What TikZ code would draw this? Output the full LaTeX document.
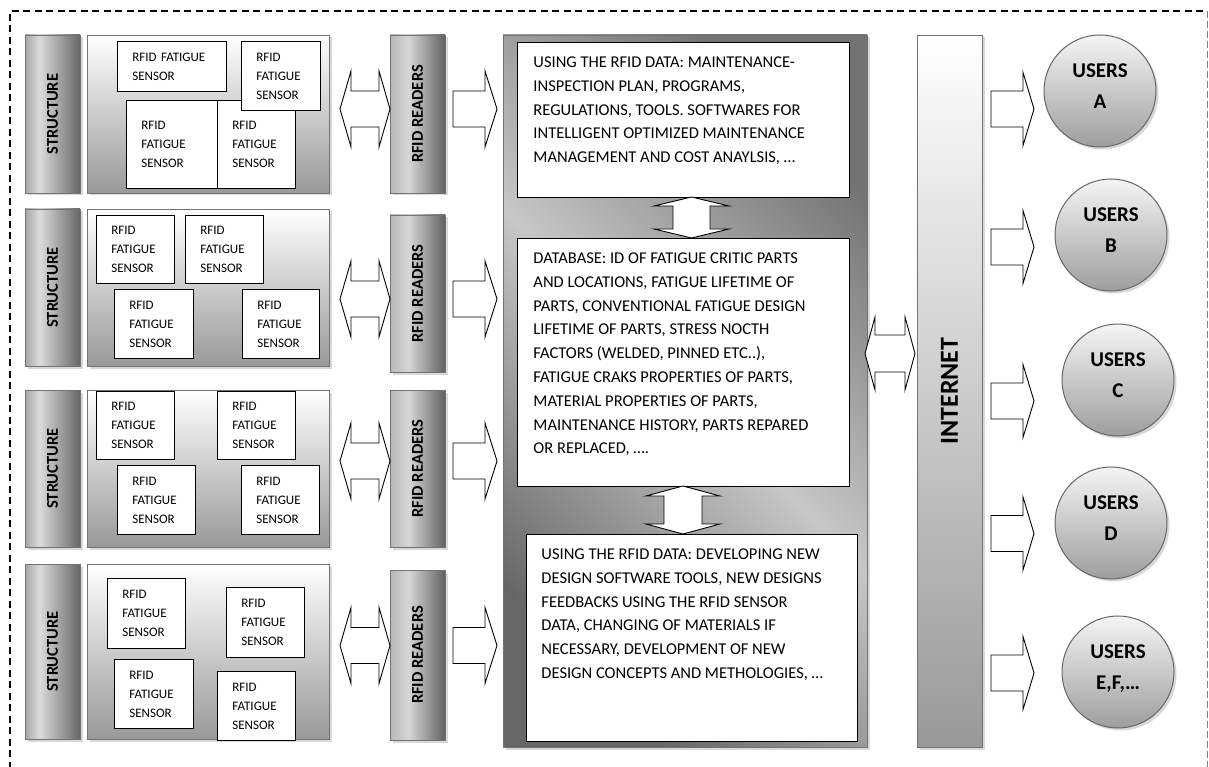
\documentclass[tikz,border=0pt]{standalone}
\usepackage{fontspec}
\setmainfont{Carlito}
\usepackage{graphicx}
\usetikzlibrary{shadows,calc}
\pgfdeclarehorizontalshading{structshade}{100bp}{color(0bp)=(black!35); color(25bp)=(black!35); color(38bp)=(black!14); color(75bp)=(black!60); color(100bp)=(black!60)}
\pgfdeclarehorizontalshading{readshade}{100bp}{color(0bp)=(black!28); color(25bp)=(black!28); color(42bp)=(black!16); color(75bp)=(black!62); color(100bp)=(black!62)}
\newcommand\HDarrow[5]{\draw[blockarr] let \p1=(#1), \p2=(#2) in (\x1,\y1) -- (\x1+#3pt,\y1+#5pt) -- (\x1+#3pt,\y1+#4pt) -- (\x2-#3pt,\y1+#4pt) -- (\x2-#3pt,\y1+#5pt) -- (\x2,\y1) -- (\x2-#3pt,\y1-#5pt) -- (\x2-#3pt,\y1-#4pt) -- (\x1+#3pt,\y1-#4pt) -- (\x1+#3pt,\y1-#5pt) -- cycle;}
\newcommand\HRarrow[5]{\draw[blockarr] let \p1=(#1), \p2=(#2) in (\x1,\y1+#4pt) -- (\x2-#3pt,\y1+#4pt) -- (\x2-#3pt,\y1+#5pt) -- (\x2,\y1) -- (\x2-#3pt,\y1-#5pt) -- (\x2-#3pt,\y1-#4pt) -- (\x1,\y1-#4pt) -- cycle;}
\newcommand\VDarrow[5]{\draw[blockarr] let \p1=(#1), \p2=(#2) in (\x1,\y1) -- (\x1+#5pt,\y1-#3pt) -- (\x1+#4pt,\y1-#3pt) -- (\x1+#4pt,\y2+#3pt) -- (\x1+#5pt,\y2+#3pt) -- (\x1,\y2) -- (\x1-#5pt,\y2+#3pt) -- (\x1-#4pt,\y2+#3pt) -- (\x1-#4pt,\y1-#3pt) -- (\x1-#5pt,\y1-#3pt) -- cycle;}
\tikzset{
  shad/.style={drop shadow={shadow xshift=2.5pt,shadow yshift=-2.5pt,fill=black!30,opacity=0.5}},
  bar/.style={draw=black!55, line width=0.9pt, shad, inner sep=0pt, font=\fontsize{16.5}{18}\selectfont\bfseries},
  structbar/.style={bar, shade, shading=structshade},
  readbar/.style={bar, shade, shading=readshade},
  panel/.style={draw=black!55, line width=0.9pt, shad, top color=white, bottom color=black!40, inner sep=0pt},
  sensor/.style={draw=black, line width=0.8pt, fill=white, inner xsep=15pt, inner ysep=0pt, align=left, anchor=north west, font=\fontsize{13}{19}\selectfont},
  bigpanel/.style={draw=black!55, line width=0.9pt, shad, top color=black!55, bottom color=black!60, middle color=black!22, shading angle=-45, inner sep=0pt},
  textbox/.style={draw=black, line width=0.9pt, fill=white, inner xsep=16pt, inner ysep=0pt, anchor=north west, font=\fontsize{16.5}{23.8}\selectfont},
  netbar/.style={draw=black!55, line width=0.9pt, shad, top color=white, bottom color=black!40, inner sep=0pt, font=\fontsize{26}{28}\selectfont\bfseries},
  user/.style={circle, minimum size=112pt, draw=black!60, line width=1pt, shad, top color=black!4, bottom color=black!38, inner sep=0pt, text depth=9pt, align=center, font=\fontsize{21}{31}\selectfont\bfseries},
  blockarr/.style={draw=black, line width=0.9pt, fill=white},
  frameline/.style={line width=1.1pt, dash pattern=on 7pt off 4.5pt}
}
\begin{document}
\begin{tikzpicture}[x=1pt,y=-1pt]
\useasboundingbox (0,0) rectangle (1209,767);
% frame
\draw[frameline, black] (10,780) -- (10,11) -- (1207,11);
\draw[frameline, black!50, line width=1pt, dash pattern=on 7pt off 3pt] (1207,11) -- (1207,780);

% structure bars
\node[structbar, minimum width=55pt, minimum height=158pt] (st1) at (52.5,114) {\rotatebox{90}{STRUCTURE}};
\node[structbar, minimum width=55pt, minimum height=157pt] (st2) at (52.5,287.5) {\rotatebox{90}{STRUCTURE}};
\node[structbar, minimum width=55pt, minimum height=157pt] (st3) at (52.5,468.5) {\rotatebox{90}{STRUCTURE}};
\node[structbar, minimum width=55pt, minimum height=175pt] (st4) at (52.5,651.5) {\rotatebox{90}{STRUCTURE}};

% sensor panels
\node[panel, minimum width=242pt, minimum height=158pt] (p1) at (208,114) {};
\node[panel, minimum width=242pt, minimum height=157pt] (p2) at (208,287.5) {};
\node[panel, minimum width=242pt, minimum height=157pt] (p3) at (208,468.5) {};
\node[panel, minimum width=242pt, minimum height=175pt] (p4) at (208,651.5) {};

% sensors row 1
\node[sensor, minimum width=96pt, minimum height=88pt, text width=66pt] (s1c) at (126,100) {RFID\\FATIGUE\\SENSOR};
\node[sensor, minimum width=78pt, minimum height=88pt, text width=48pt] (s1d) at (217,100) {RFID\\FATIGUE\\SENSOR};
\node[sensor, minimum width=109pt, minimum height=50pt, text width=79pt] (s1a) at (117,41) {RFID FATIGUE\\SENSOR};
\node[sensor, minimum width=79pt, minimum height=69pt, text width=49pt] (s1b) at (241,41) {RFID\\FATIGUE\\SENSOR};
% row 2
\node[sensor, minimum width=78pt, minimum height=68pt, text width=48pt] (s2a) at (96,215) {RFID\\FATIGUE\\SENSOR};
\node[sensor, minimum width=78pt, minimum height=68pt, text width=48pt] (s2b) at (185,215) {RFID\\FATIGUE\\SENSOR};
\node[sensor, minimum width=79pt, minimum height=69pt, text width=49pt] (s2c) at (114,289) {RFID\\FATIGUE\\SENSOR};
\node[sensor, minimum width=77pt, minimum height=69pt, text width=47pt] (s2d) at (242,289) {RFID\\FATIGUE\\SENSOR};
% row 3
\node[sensor, minimum width=78pt, minimum height=68pt, text width=48pt] (s3a) at (96,391) {RFID\\FATIGUE\\SENSOR};
\node[sensor, minimum width=78pt, minimum height=68pt, text width=48pt] (s3b) at (217,391) {RFID\\FATIGUE\\SENSOR};
\node[sensor, minimum width=78pt, minimum height=69pt, text width=48pt] (s3c) at (117,465) {RFID\\FATIGUE\\SENSOR};
\node[sensor, minimum width=78pt, minimum height=69pt, text width=48pt] (s3d) at (241,465) {RFID\\FATIGUE\\SENSOR};
% row 4
\node[sensor, minimum width=78pt, minimum height=70pt, text width=48pt] (s4a) at (107,578) {RFID\\FATIGUE\\SENSOR};
\node[sensor, minimum width=78pt, minimum height=70pt, text width=48pt] (s4b) at (226,587) {RFID\\FATIGUE\\SENSOR};
\node[sensor, minimum width=79pt, minimum height=69pt, text width=49pt] (s4c) at (114,659) {RFID\\FATIGUE\\SENSOR};
\node[sensor, minimum width=78pt, minimum height=69pt, text width=48pt] (s4d) at (217,671) {RFID\\FATIGUE\\SENSOR};

% readers
\node[readbar, minimum width=55pt, minimum height=158pt] (r1) at (417.5,114) {\rotatebox{90}{RFID READERS}};
\node[readbar, minimum width=55pt, minimum height=157pt] (r2) at (417.5,293.5) {\rotatebox{90}{RFID READERS}};
\node[readbar, minimum width=55pt, minimum height=157pt] (r3) at (417.5,468.5) {\rotatebox{90}{RFID READERS}};
\node[readbar, minimum width=55pt, minimum height=170pt] (r4) at (417.5,655) {\rotatebox{90}{RFID READERS}};

% center panel
\node[bigpanel, minimum width=364pt, minimum height=712pt] (cp) at (685,391) {};
\node[textbox] (tb1) at (517,42) {\parbox[c][155pt][t]{300pt}{\frenchspacing\rule{0pt}{25pt}\mbox{USING THE RFID DATA: MAINTENANCE-}\\\mbox{INSPECTION PLAN, PROGRAMS,}\\\mbox{REGULATIONS, TOOLS. SOFTWARES FOR}\\\mbox{INTELLIGENT OPTIMIZED MAINTENANCE}\\\mbox{MANAGEMENT AND COST ANAYLSIS, …}}};
\node[textbox] (tb2) at (517,238) {\parbox[c][248pt][t]{300pt}{\frenchspacing\rule{0pt}{25pt}\mbox{DATABASE: ID OF FATIGUE CRITIC PARTS}\\\mbox{AND LOCATIONS, FATIGUE LIFETIME OF}\\\mbox{PARTS, CONVENTIONAL FATIGUE DESIGN}\\\mbox{LIFETIME OF PARTS, STRESS NOCTH}\\\mbox{FACTORS (WELDED, PINNED ETC..),}\\\mbox{FATIGUE CRAKS PROPERTIES OF PARTS,}\\\mbox{MATERIAL PROPERTIES OF PARTS,}\\\mbox{MAINTENANCE HISTORY, PARTS REPARED}\\\mbox{OR REPLACED, ….}}};
\node[textbox, inner xsep=15pt] (tb3) at (526,534) {\parbox[c][207pt][t]{301pt}{\frenchspacing\rule{0pt}{25pt}\mbox{USING THE RFID DATA: DEVELOPING NEW}\\\mbox{DESIGN SOFTWARE TOOLS, NEW DESIGNS}\\\mbox{FEEDBACKS USING THE RFID SENSOR}\\\mbox{DATA, CHANGING OF MATERIALS IF}\\\mbox{NECESSARY, DEVELOPMENT OF NEW}\\\mbox{DESIGN CONCEPTS AND METHOLOGIES, …}}};

% internet
\node[netbar, minimum width=65pt, minimum height=712pt] (net) at (949.5,391) {\rotatebox{90}{INTERNET}};

% users
\node[user] (ua) at (1100,91) {USERS\\A};
\node[user] (ub) at (1111,235) {USERS\\B};
\node[user] (uc) at (1118,380) {USERS\\C};
\node[user] (ud) at (1111,523) {USERS\\D};
\node[user] (ue) at (1118,672) {USERS\\E,F,…};

% arrow end coordinates
\coordinate (d1l) at (340,109);   \coordinate (d1r) at (390,109);
\coordinate (d2l) at (340,299);   \coordinate (d2r) at (390,299);
\coordinate (d3l) at (340,461);   \coordinate (d3r) at (390,461);
\coordinate (d4l) at (340,645.5); \coordinate (d4r) at (390,645.5);
\coordinate (a1l) at (453,109);   \coordinate (a1r) at (497,109);
\coordinate (a2l) at (453,299);   \coordinate (a2r) at (497,299);
\coordinate (a3l) at (453,461);   \coordinate (a3r) at (497,461);
\coordinate (a4l) at (453,645.5); \coordinate (a4r) at (497,645.5);
\coordinate (nl) at (865,353.5);  \coordinate (nr) at (915,353.5);
\coordinate (v1t) at (691.5,197); \coordinate (v1b) at (691.5,238);
\coordinate (v2t) at (683,486);   \coordinate (v2b) at (683,534);
\coordinate (uat) at (991,109);   \coordinate (uah) at (1034,109);
\coordinate (ubt) at (991,247);   \coordinate (ubh) at (1034,247);
\coordinate (uct) at (991,401);   \coordinate (uch) at (1034,401);
\coordinate (udt) at (991,533.5); \coordinate (udh) at (1034,533.5);
\coordinate (uet) at (991,673);   \coordinate (ueh) at (1034,673);

% arrows
\HDarrow{d1l}{d1r}{11}{18}{38}
\HDarrow{d2l}{d2r}{11}{18}{38}
\HDarrow{d3l}{d3r}{11}{18}{38}
\HDarrow{d4l}{d4r}{11}{18}{38}
\HRarrow{a1l}{a1r}{12}{18}{38}
\HRarrow{a2l}{a2r}{12}{18}{38}
\HRarrow{a3l}{a3r}{12}{18}{38}
\HRarrow{a4l}{a4r}{12}{18}{38}
\HDarrow{nl}{nr}{10}{18.5}{36.5}
\VDarrow{v1t}{v1b}{9}{18.5}{37.5}
\VDarrow{v2t}{v2b}{10}{19}{37}
\HRarrow{uat}{uah}{11}{18}{36.5}
\HRarrow{ubt}{ubh}{11}{18}{36.5}
\HRarrow{uct}{uch}{11}{18}{36.5}
\HRarrow{udt}{udh}{11}{18}{36.5}
\HRarrow{uet}{ueh}{11}{18}{36.5}
\end{tikzpicture}
\end{document}
